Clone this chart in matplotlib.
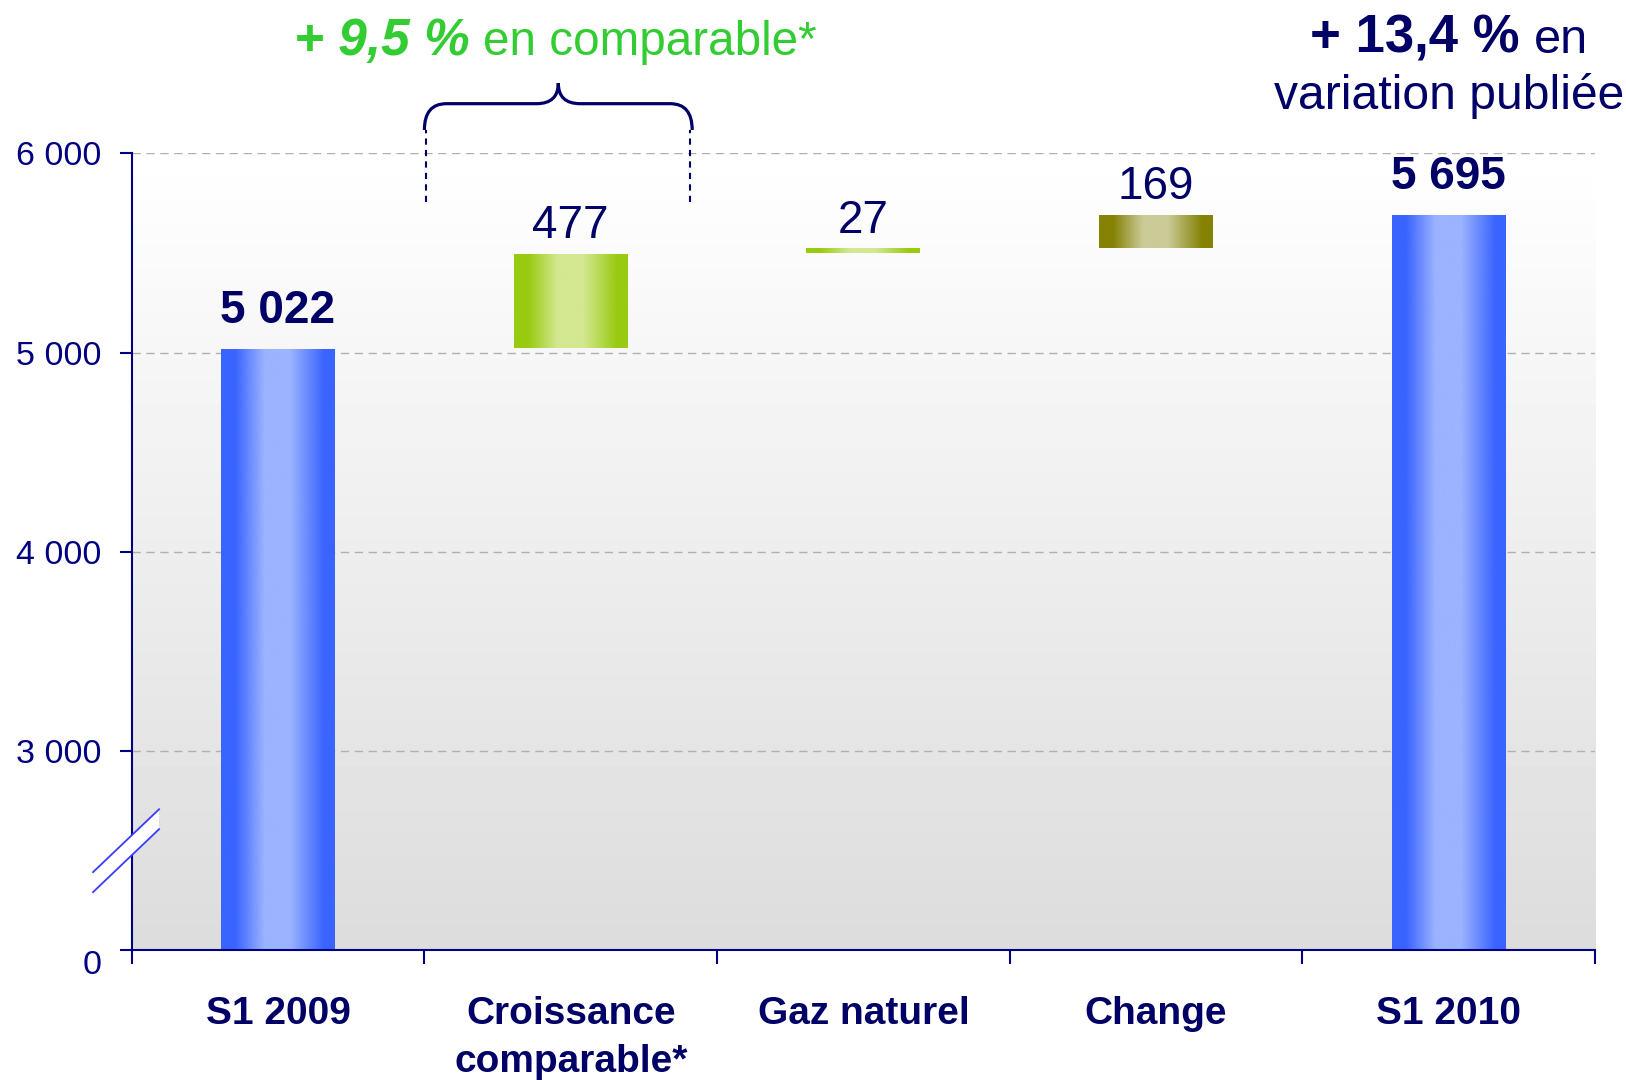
import numpy as np
import matplotlib
matplotlib.use('Agg')
import matplotlib.pyplot as plt
from matplotlib.colors import LinearSegmentedColormap
from matplotlib.path import Path
from matplotlib.patches import PathPatch, Polygon
from matplotlib.offsetbox import TextArea, HPacker, AnnotationBbox
from matplotlib.transforms import blended_transform_factory

plt.rcParams['font.family'] = ['Liberation Sans', 'DejaVu Sans']

# data
categories = ['S1 2009', 'Croissance\ncomparable*', 'Gaz naturel', 'Change', 'S1 2010']
values = [5022, 477, 27, 169, 5695]
kinds = ['total', 'delta', 'delta', 'delta', 'total']
value_labels = ['5 022', '477', '27', '169', '5 695']
yticks = [0, 3000, 4000, 5000, 6000]
ytick_labels = ['', '3 000', '4 000', '5 000', '6 000']

NAVY = '#000066'
AXC = '#000080'
GREEN = '#33cc33'

# running bottoms for the waterfall
bottoms = []
run = 0
for v, k in zip(values, kinds):
    if k == 'total':
        bottoms.append(0)
        run = v
    else:
        bottoms.append(run)
        run += v


# broken axis: 0..3000 squeezed to the height of 1000
def fwd(y):
    y = np.asarray(y, dtype=float)
    return np.where(y < 3000, y / 3.0, y - 2000.0)


def inv(f):
    f = np.asarray(f, dtype=float)
    return np.where(f < 1000, f * 3.0, f + 2000.0)


def bar_cmap(dark, light):
    return LinearSegmentedColormap.from_list(
        'g', [(0, dark), (0.12, dark), (0.38, light), (0.6, light), (0.9, dark), (1, dark)])


blue = bar_cmap('#3a64ff', '#9cb4ff')
green = bar_cmap('#98cb10', '#d4e892')
olive = bar_cmap('#858205', '#cbcb98')
cmaps = [blue, green, green, olive, blue]

fig = plt.figure(figsize=(16.26, 10.80), dpi=100)
ax = fig.add_axes([0.081, 0.1204, 0.900, 0.7375])
ax.set_yscale('function', functions=(fwd, inv))

# background gradient
bg = np.linspace(0.863, 1.0, 256).reshape(-1, 1)
ax.imshow(bg, cmap='gray', vmin=0, vmax=1, extent=(0, 1, 0, 1), transform=ax.transAxes,
          aspect='auto', origin='lower', zorder=0, interpolation='bicubic')

w = 0.39
grad = np.linspace(0, 1, 256).reshape(1, -1)
for i, (v, b, cm) in enumerate(zip(values, bottoms, cmaps)):
    rect = ax.bar(i, v, w, bottom=b, color='none', linewidth=0, zorder=2)[0]
    im = ax.imshow(grad, cmap=cm, aspect='auto', extent=(i - w / 2, i + w / 2, b, b + v),
                   zorder=2, interpolation='bicubic')
    im.set_clip_path(rect)
    bold = kinds[i] == 'total'
    ax.annotate(value_labels[i], xy=(i, b + v), xytext=(0, 18.5 if bold else 11),
                textcoords='offset points', ha='center', va='baseline',
                fontsize=33, fontweight='bold' if bold else 'normal', color=NAVY)

ax.set_xlim(-0.5, 4.5)
ax.set_ylim(0, 6000)

# grid
ax.set_yticks(yticks)
ax.set_yticklabels(ytick_labels)
ax.yaxis.grid(True, color='#b0b0b0', linestyle=(0, (6, 4)), linewidth=1)
ax.set_axisbelow(True)

ax.set_xticks(range(len(categories)))
ax.set_xticklabels(categories, fontsize=28, fontweight='bold', color=NAVY, linespacing=1.44)
ax.set_xticks(np.arange(-0.5, len(categories), 1), minor=True)
ax.tick_params(axis='x', which='major', length=0, pad=33)
ax.tick_params(axis='x', which='minor', length=10, width=1.5, color=AXC, direction='out')
ax.tick_params(axis='y', length=8.5, width=1.5, color=AXC, labelsize=24.5, labelcolor=AXC, pad=13)

# the "0" label sits a bit lower than its tick
ax.annotate('0', xy=(0, 0), xycoords=('axes fraction', 'data'), xytext=(-21.5, -11),
            textcoords='offset points', ha='right', va='center', fontsize=24.5, color=AXC)

for s in ['top', 'right']:
    ax.spines[s].set_visible(False)
for s in ['left', 'bottom']:
    ax.spines[s].set_color(AXC)
    ax.spines[s].set_linewidth(1.5)

# axis break marks
tr = blended_transform_factory(ax.transAxes, ax.transData)
ax.add_patch(Polygon([(-0.0264, 1173), (0.0187, 2120), (0.0187, 1820), (-0.0264, 872)],
                     closed=True, facecolor='white', edgecolor='none', transform=tr,
                     clip_on=False, zorder=5))
ax.plot([-0.0264, 0.0187], [1173, 2120], color='#3b3bff', lw=1.3, transform=tr, clip_on=False, zorder=6)
ax.plot([-0.0264, 0.0187], [872, 1820], color='#3b3bff', lw=1.3, transform=tr, clip_on=False, zorder=6)

# brace over the comparable growth
x0, x1 = 0.5, 1.415
xm = (x0 + x1) / 2
y_end, y_bar, y_tip = 6118, 6250, 6353
rx = 0.075
verts = [(x0, y_end), (x0, y_bar), (x0 + rx, y_bar), (xm - rx, y_bar),
         (xm, y_bar), (xm, y_tip), (xm, y_bar), (xm + rx, y_bar),
         (x1 - rx, y_bar), (x1, y_bar), (x1, y_end)]
codes = [Path.MOVETO, Path.CURVE3, Path.CURVE3, Path.LINETO,
         Path.CURVE3, Path.CURVE3, Path.CURVE3, Path.CURVE3,
         Path.LINETO, Path.CURVE3, Path.CURVE3]
ax.add_patch(PathPatch(Path(verts, codes), fill=False, edgecolor=NAVY, lw=2.3,
                       clip_on=False, zorder=6))
for xx in (x0 + 0.007, x1 - 0.007):
    ax.plot([xx, xx], [5757, 6118], color=NAVY, lw=1.5, ls=(0, (3, 2.5)), clip_on=False, zorder=6)

# headline texts
t1 = TextArea('+ 9,5 %', textprops=dict(color=GREEN, fontsize=37, fontweight='bold', fontstyle='italic'))
t2 = TextArea('en comparable*', textprops=dict(color=GREEN, fontsize=34.3))
pk = HPacker(children=[t1, t2], align='baseline', pad=0, sep=9)
ax.add_artist(AnnotationBbox(pk, (xm - 0.01, 6437), xycoords='data', box_alignment=(0.5, 0),
                             frameon=False, pad=0, annotation_clip=False))

t3 = TextArea('+ 13,4 %', textprops=dict(color=NAVY, fontsize=38, fontweight='bold'))
t4 = TextArea('en', textprops=dict(color=NAVY, fontsize=35))
pk2 = HPacker(children=[t3, t4], align='baseline', pad=0, sep=10)
ax.add_artist(AnnotationBbox(pk2, (4, 6450), xycoords='data', box_alignment=(0.5, 0),
                             frameon=False, pad=0, annotation_clip=False))
ax.text(4, 6225, 'variation publiée', ha='center', va='baseline', fontsize=34.6, color=NAVY)

fig.savefig('out.png', dpi=100)
